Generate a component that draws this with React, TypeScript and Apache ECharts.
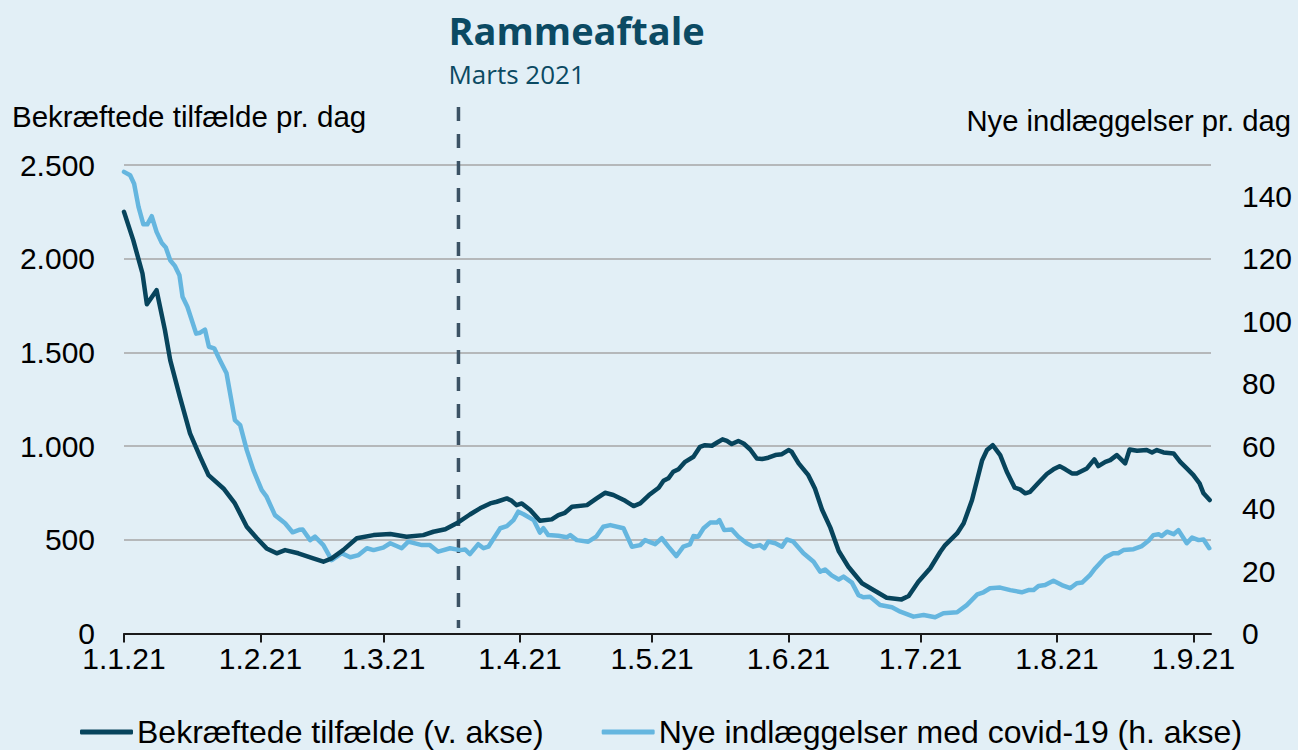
import React, { useEffect, useRef } from "react";
import * as echarts from "echarts";

// ---- Data (day offset from 1 Jan 2021) ----
const casesDays = [0, 2.1, 4.2, 5.2, 7.4, 9.3, 10.5, 12.7, 15, 17.3, 19.2, 22.6, 25.2, 27.9, 30.2, 32.4, 34.7, 36.6, 39.6, 43, 45.3, 47.2, 49.8, 52.9, 56.7, 60.5, 64.2, 68, 70.3, 73, 75.6, 78.6, 80.9, 83.2, 84.7, 87, 88.1, 89.2, 90.4, 92.3, 94.5, 97.2, 98.7, 100.2, 101.8, 105.2, 107.4, 109.3, 111.2, 113.9, 115.8, 117.3, 119.3, 121.5, 122.6, 123.7, 124.8, 126, 127.5, 129.4, 130.9, 132, 133.6, 134.7, 136, 137, 138.1, 139.6, 140.8, 142.3, 143.8, 145, 146.4, 148, 149.5, 151, 151.7, 153.3, 155.5, 157, 158.6, 160.5, 162.4, 164.6, 167.7, 170.3, 173.3, 176.7, 178.3, 180.5, 183.2, 185.5, 186.6, 189.3, 190.8, 192.7, 195, 196.1, 197.4, 199.1, 200.6, 202.4, 203.6, 204.8, 205.9, 207.8, 209.7, 211.2, 212.6, 213.9, 215.4, 216.5, 218.8, 220.5, 221.4, 223, 224.1, 225.6, 227.5, 228.5, 230.2, 232.4, 233.6, 234.7, 236.2, 238.5, 240, 241.5, 243, 244.4, 245.3, 246.7];
const casesValues = [2250, 2099, 1921, 1757, 1832, 1619, 1459, 1263, 1068, 943, 845, 774, 694, 570, 508, 454, 428, 445, 428, 401, 383, 401, 445, 508, 525, 531, 516, 525, 543, 556, 588, 635, 668, 694, 703, 721, 708, 685, 694, 659, 602, 609, 632, 644, 676, 685, 721, 751, 739, 708, 680, 694, 739, 778, 815, 828, 863, 877, 916, 943, 996, 1005, 1002, 1018, 1036, 1028, 1011, 1027, 1014, 982, 934, 931, 938, 952, 957, 979, 970, 908, 845, 774, 662, 565, 440, 356, 268, 232, 191, 182, 200, 276, 348, 436, 472, 534, 588, 712, 925, 979, 1005, 952, 863, 778, 769, 748, 756, 804, 851, 876, 893, 876, 854, 854, 881, 929, 893, 916, 925, 952, 908, 982, 975, 979, 966, 979, 966, 961, 916, 881, 845, 801, 748, 712];

const admDays = [0, 1.4, 2.3, 3.3, 4.4, 5.3, 6.3, 7.4, 8.6, 9.5, 10.5, 11.6, 12.6, 13.3, 14.4, 16.4, 17.3, 18.4, 19.3, 20.5, 21.8, 23.3, 25.2, 26.4, 27.9, 29.4, 31.3, 32.4, 34.3, 36.6, 38.3, 39.8, 40.6, 42.3, 43.4, 45.3, 47.2, 49.5, 51.4, 53.3, 55.2, 56.7, 58.9, 60.5, 63.1, 64.6, 67.7, 69.5, 71.4, 74.1, 76.4, 77.5, 78.6, 80.5, 81.7, 82.8, 85.5, 87, 88.5, 89.6, 90.8, 93.1, 94.5, 95.3, 96.4, 98.7, 100.6, 101.4, 102.9, 105.5, 107.3, 108.9, 110.5, 113.5, 115.4, 117.3, 118.4, 119.8, 120.7, 122.2, 123.7, 125.5, 127.1, 128.6, 129.4, 130.5, 131.7, 133.2, 134.7, 135.3, 136.4, 138.1, 139.6, 141.5, 143, 144.5, 145.5, 146.4, 148, 149.5, 150.6, 152.1, 154.4, 156.7, 158.2, 159.3, 160.8, 162.4, 163.5, 165.4, 166.9, 168, 169.5, 171.8, 174.5, 176.4, 179.4, 181.7, 184.3, 186.2, 189.3, 191.5, 193.9, 195.3, 196.8, 199.1, 201.4, 204, 205.5, 206.7, 207.8, 209.3, 211.2, 213.1, 215, 216.5, 217.7, 219.5, 220.7, 223, 224.8, 225.9, 227.1, 229.4, 231.3, 232.8, 233.9, 235.1, 235.8, 237, 238.5, 239.6, 241.5, 242.7, 244.2, 245.3, 246.6];
const admValues = [147.8, 146.7, 144, 136.6, 131, 131, 133.6, 128.6, 125, 123.6, 119.5, 117.6, 114.7, 107.8, 104.6, 96, 96.3, 97.3, 91.8, 91.3, 87.5, 83.3, 68.3, 66.7, 58.7, 52.3, 45.9, 43.8, 37.9, 35.3, 32.4, 33.2, 33.3, 29.9, 31, 28.3, 23.5, 25.7, 24.4, 25.1, 27.3, 26.7, 27.5, 28.9, 27.3, 29.4, 28.3, 28.3, 26.2, 27.3, 26.7, 26.9, 25.4, 28.6, 27.3, 27.8, 33.7, 34.4, 36.3, 39, 38.2, 36.3, 32.3, 33.7, 31.5, 31.3, 30.8, 31.5, 29.9, 29.4, 31, 34.2, 34.7, 33.7, 27.8, 28.3, 29.9, 29.1, 28.6, 30.5, 27.8, 24.8, 27.8, 28.5, 31.2, 31, 33.7, 35.5, 35.5, 36.3, 33.1, 33.3, 31, 28.9, 27.8, 28.3, 27.3, 29.4, 28.9, 27.8, 30.1, 29.4, 25.7, 23, 19.8, 20.5, 18.6, 17.3, 18.2, 16.3, 12.3, 11.6, 11.8, 9.1, 8.4, 7, 5.4, 5.9, 5.2, 6.5, 6.8, 9.1, 12.5, 13.2, 14.5, 14.7, 13.9, 13.2, 13.9, 13.9, 15.2, 15.5, 16.9, 15.5, 14.5, 16.1, 16.3, 18.7, 20.9, 24.4, 25.7, 25.7, 26.7, 27, 28, 29.7, 31.5, 31.8, 31.2, 32.6, 31.8, 33.1, 28.9, 30.7, 29.9, 30.1, 27.3];

const monthTickDays = [0, 31, 59, 90, 120, 151, 181, 212, 243];
const monthLabels = ["1.1.21", "1.2.21", "1.3.21", "1.4.21", "1.5.21", "1.6.21", "1.7.21", "1.8.21", "1.9.21"];

const annotationDay = 76; // 18 March 2021
const annotationTitle = "Rammeaftale";
const annotationSub = "Marts 2021";

const seriesNames = ["Bekræftede tilfælde (v. akse)", "Nye indlæggelser med covid-19 (h. akse)"];
const leftAxisTitle = "Bekræftede tilfælde pr. dag";
const rightAxisTitle = "Nye indlæggelser pr. dag";

const DARK = "#07445c";
const LIGHT = "#65b6df";
const BG = "#e2eff6";
const FONT = "'Liberation Sans', Arial, sans-serif";

const thousands = (v: number) => String(v).replace(/\B(?=(\d{3})+(?!\d))/g, ".");

export default function App() {
  const ref = useRef<HTMLDivElement>(null);

  useEffect(() => {
    if (!ref.current) return;
    const chart = echarts.init(ref.current, null, { renderer: "svg", width: 1298, height: 750 });

    const option: any = {
      animation: false,
      backgroundColor: BG,
      textStyle: { fontFamily: FONT },
      grid: { left: 124, right: 87, top: 165, bottom: 116.5, containLabel: false },
      legend: {
        left: 80,
        top: 715,
        padding: 0,
        itemWidth: 53,
        itemHeight: 5,
        itemGap: 58,
        icon: "roundRect",
        textStyle: { fontSize: 32, lineHeight: 34, color: "#000", fontFamily: FONT, padding: [0, 0, 0, -1] },
        data: seriesNames,
      },
      xAxis: {
        type: "value",
        min: 0,
        max: 247,
        splitLine: { show: false },
        axisLine: { show: true, lineStyle: { color: "#1a1a1a", width: 2 } },
        axisTick: { show: true, customValues: monthTickDays, length: 9, lineStyle: { color: "#1a1a1a", width: 2 } },
        axisLabel: {
          customValues: monthTickDays,
          fontSize: 30,
          lineHeight: 24,
          color: "#000",
          margin: 13,
          formatter: (v: number) => {
            const i = monthTickDays.indexOf(Math.round(v));
            return i >= 0 ? monthLabels[i] : "";
          },
        },
      },
      yAxis: [
        {
          type: "value",
          min: 0,
          max: 2500,
          interval: 500,
          axisLine: { show: false },
          axisTick: { show: false },
          splitLine: { show: true, lineStyle: { color: "#a6a6a6", width: 1.5 } },
          axisLabel: { fontSize: 30, lineHeight: 22, color: "#000", margin: 29, formatter: (v: number) => thousands(v) },
        },
        {
          type: "value",
          min: 0,
          max: 150,
          interval: 20,
          axisLine: { show: false },
          axisTick: { show: false },
          splitLine: { show: false },
          axisLabel: { fontSize: 30, lineHeight: 22, color: "#000", margin: 31, showMaxLabel: false, formatter: (v: number) => (v > 140 ? "" : String(v)) },
        },
      ],
      series: [
        {
          name: seriesNames[0],
          type: "line",
          yAxisIndex: 0,
          showSymbol: false,
          symbol: "none",
          color: DARK,
          lineStyle: { color: DARK, width: 4.5, cap: "round", join: "round" },
          data: casesDays.map((d, i) => [d, casesValues[i]]),
          z: 3,
        },
        {
          name: seriesNames[1],
          type: "line",
          yAxisIndex: 1,
          showSymbol: false,
          symbol: "none",
          color: LIGHT,
          lineStyle: { color: LIGHT, width: 4.5, cap: "round", join: "round" },
          data: admDays.map((d, i) => [d, admValues[i]]),
          z: 2,
        },
      ],
    };

    chart.setOption(option);

    const ax = chart.convertToPixel({ xAxisIndex: 0 }, annotationDay) as number;
    const yBottom = chart.convertToPixel({ yAxisIndex: 0 }, 30) as number;

    chart.setOption({
      graphic: {
        elements: [
          {
            type: "line",
            shape: { x1: ax, y1: 107, x2: ax, y2: yBottom },
            style: { stroke: "#3b5264", lineWidth: 3.5, lineDash: [14, 13] },
            z: 1,
          },
          {
            type: "text",
            x: ax - 10,
            y: 29.5,
            style: {
              text: annotationTitle,
              fill: "#0b4a63",
              font: "bold 38px 'Open Sans', sans-serif",
              textAlign: "left",
              textVerticalAlign: "middle",
            },
          },
          {
            type: "text",
            x: ax - 10,
            y: 73.7,
            style: {
              text: annotationSub,
              fill: "#0b4a63",
              font: "26px 'Open Sans', sans-serif",
              textAlign: "left",
              textVerticalAlign: "middle",
            },
          },
          {
            type: "text",
            x: 12,
            y: 116,
            style: {
              text: leftAxisTitle,
              fill: "#000",
              font: "29.5px 'Liberation Sans', Arial, sans-serif",
              textAlign: "left",
              textVerticalAlign: "middle",
            },
          },
          {
            type: "text",
            x: 1291,
            y: 121,
            style: {
              text: rightAxisTitle,
              fill: "#000",
              font: "29.2px 'Liberation Sans', Arial, sans-serif",
              textAlign: "right",
              textVerticalAlign: "middle",
            },
          },
        ],
      },
    });

    return () => chart.dispose();
  }, []);

  return <div ref={ref} style={{ position: "absolute", left: 0, top: 0, width: 1298, height: 750 }} />;
}
